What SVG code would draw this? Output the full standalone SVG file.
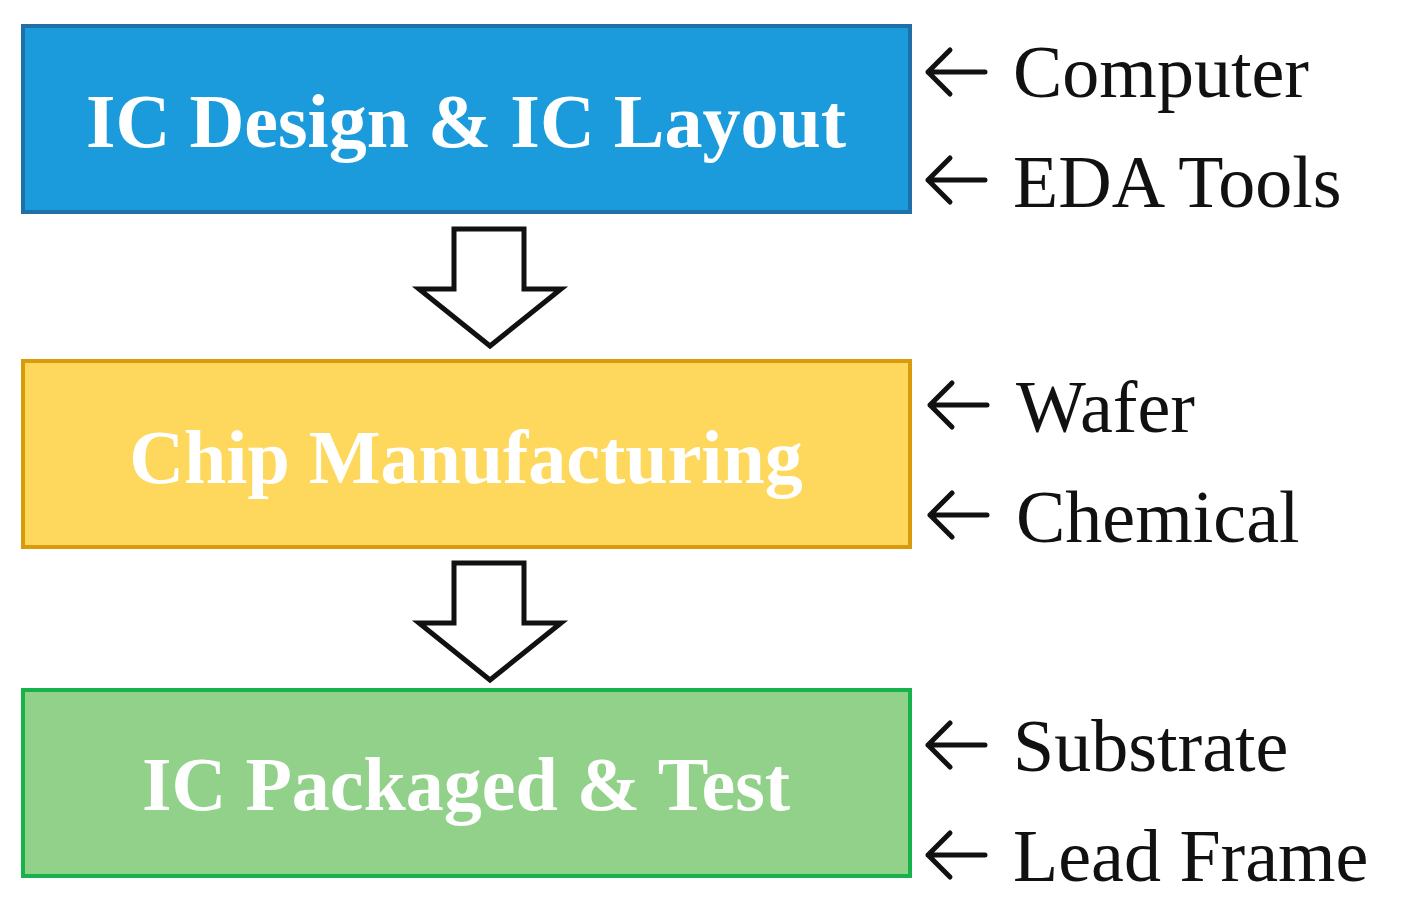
<svg xmlns="http://www.w3.org/2000/svg" width="1401" height="911" viewBox="0 0 1401 911">
<style>
.t{font-family:"Liberation Serif",serif;font-weight:bold;font-size:76px;fill:#fff;text-anchor:middle}
.l{font-family:"Liberation Serif",serif;font-size:74px;fill:#111}
.a{fill:none;stroke:#111;stroke-width:5;stroke-linecap:round;stroke-linejoin:round}
.b{fill:#fff;stroke:#111;stroke-width:5;stroke-linejoin:miter}
</style>
<rect width="1401" height="911" fill="#fff"/>
<g id="n1"><rect x="23" y="26" width="887" height="186" fill="#1b9bdb" stroke="#1f6fa8" stroke-width="4"/><text class="t" x="466" y="147">IC Design &amp; IC Layout</text></g>
<g id="n2"><rect x="23" y="361" width="887" height="186" fill="#fdd85d" stroke="#d99b0a" stroke-width="4"/><text class="t" x="466" y="483">Chip Manufacturing</text></g>
<g id="n3"><rect x="23" y="690" width="887" height="186" fill="#92d18a" stroke="#17b24a" stroke-width="4"/><text class="t" x="466" y="810">IC Packaged &amp; Test</text></g>
<g id="connectors">
<path class="b" d="M454 229H524V289H561L490 346L419 289H454Z"/>
<path class="b" d="M454 563H524V623H561L490 680L419 623H454Z"/>
<path class="a" d="M985 72H928M950 50L928 72L950 94"/>
<path class="a" d="M985 180H928M950 158L928 180L950 202"/>
<path class="a" d="M987 405H930M952 383L930 405L952 427"/>
<path class="a" d="M987 515H930M952 493L930 515L952 537"/>
<path class="a" d="M985 745H928M950 723L928 745L950 767"/>
<path class="a" d="M985 855H928M950 833L928 855L950 877"/>
</g>
<g id="labels">
<text class="l" x="1013" y="97">Computer</text>
<text class="l" x="1013" y="207">EDA Tools</text>
<text class="l" x="1016" y="432">Wafer</text>
<text class="l" x="1016" y="542">Chemical</text>
<text class="l" x="1013" y="771">Substrate</text>
<text class="l" x="1013" y="881">Lead Frame</text>
</g>
</svg>
